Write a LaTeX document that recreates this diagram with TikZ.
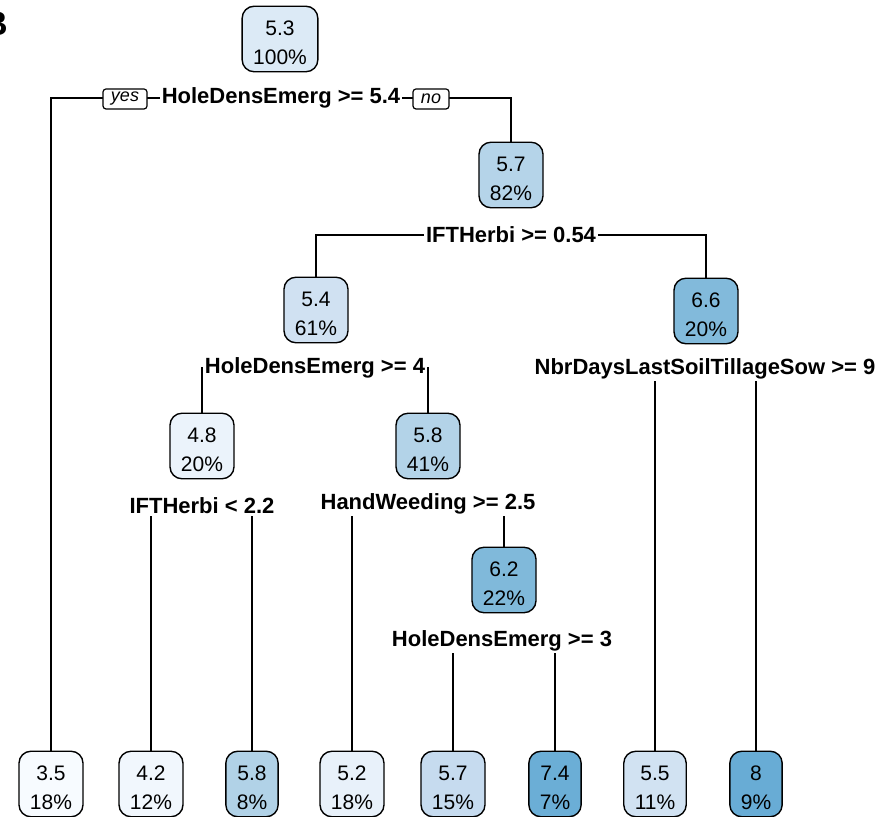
\documentclass[tikz,border=0pt]{standalone}
\usepackage{fontspec}
\setmainfont{Liberation Sans}
\usepackage{xcolor}
\usepackage{tikz}
\usetikzlibrary{backgrounds}

\definecolor{c53}{HTML}{DCEAF6}
\definecolor{c57}{HTML}{B5D4E9}
\definecolor{c54}{HTML}{D0E1F2}
\definecolor{c66}{HTML}{82BADB}
\definecolor{c48}{HTML}{EBF3FB}
\definecolor{c58}{HTML}{B3D3E8}
\definecolor{c62}{HTML}{80B9DA}
\definecolor{l35}{HTML}{F7FBFF}
\definecolor{l42}{HTML}{F1F7FD}
\definecolor{l58}{HTML}{B1D2E7}
\definecolor{l52}{HTML}{E8F1FA}
\definecolor{l57}{HTML}{C6DBEF}
\definecolor{l74}{HTML}{6BAED6}
\definecolor{l55}{HTML}{D1E2F2}
\definecolor{l80}{HTML}{68ACD5}

\newcommand{\nd}[2]{\rule{0pt}{11.5pt}#1\\#2}

\begin{document}
\begin{tikzpicture}[x=0.5pt,y=-0.5pt]
\useasboundingbox (0,0) rectangle (883,817);
\tikzstyle{box}=[draw,line width=0.7pt,rounded corners=6pt,align=center,inner xsep=5.5pt,minimum height=32pt,font=\fontsize{10.5}{14.5}\selectfont];
\tikzstyle{split}=[fill=white,inner sep=1pt,font=\fontsize{11}{13}\selectfont\bfseries];
\tikzstyle{yn}=[draw,fill=white,line width=0.6pt,rounded corners=1.5pt,inner xsep=4pt,inner ysep=1pt,minimum height=10pt,font=\fontsize{9}{10}\selectfont\itshape];
\tikzstyle{edge}=[line width=0.6pt];

\node[font=\fontsize{17}{20}\selectfont\bfseries,inner sep=0pt,anchor=base east] (panel) at (8,36) {B};

% inner nodes
\node[box,fill=c53] (n1) at (280,39) {\nd{5.3}{100\%}};
\node[box,fill=c57] (n3) at (511,175) {\nd{5.7}{82\%}};
\node[box,fill=c54] (n6) at (316,310) {\nd{5.4}{61\%}};
\node[box,fill=c66] (n7) at (706,311) {\nd{6.6}{20\%}};
\node[box,fill=c48] (n12) at (202,446) {\nd{4.8}{20\%}};
\node[box,fill=c58] (n13) at (428,446) {\nd{5.8}{41\%}};
\node[box,fill=c62] (n27) at (504,580) {\nd{6.2}{22\%}};

% leaves
\node[box,fill=l35] (n2) at (51,784) {\nd{3.5}{18\%}};
\node[box,fill=l42] (n24) at (151,784) {\nd{4.2}{12\%}};
\node[box,fill=l58] (n25) at (252,784) {\nd{5.8}{8\%}};
\node[box,fill=l52] (n26) at (352,784) {\nd{5.2}{18\%}};
\node[box,fill=l57] (n54) at (453,784) {\nd{5.7}{15\%}};
\node[box,fill=l74] (n55) at (555,784) {\nd{7.4}{7\%}};
\node[box,fill=l55] (n14) at (655,784) {\nd{5.5}{11\%}};
\node[box,fill=l80] (n15) at (756,784) {\nd{8}{9\%}};

% split labels
\node[split] (s1) at (281,98) {HoleDensEmerg >= 5.4};
\node[yn] (yes) at (125,99) {yes};
\node[yn] (no) at (431,99) {no};
\node[split] (s3) at (511,235) {IFTHerbi >= 0.54};
\node[split] (s6) at (315,368) {HoleDensEmerg >= 4};
\node[split] (s7) at (705,369) {NbrDaysLastSoilTillageSow >= 9};
\node[split] (s12) at (202,506) {IFTHerbi < 2.2};
\node[split] (s13) at (428,504) {HandWeeding >= 2.5};
\node[split] (s27) at (502,641) {HoleDensEmerg >= 3};

\begin{pgfonlayer}{background}
\draw[edge] (s1.center) -| (n2.north);
\draw[edge] (s1.center) -| (n3.north);
\draw[edge] (s3.center) -| (n6.north);
\draw[edge] (s3.center) -| (n7.north);
\draw[edge] (s6.center) -| (n12.north);
\draw[edge] (s6.center) -| (n13.north);
\draw[edge] (s7.center) -| (n14.north);
\draw[edge] (s7.center) -| (n15.north);
\draw[edge] (s12.center) -| (n24.north);
\draw[edge] (s12.center) -| (n25.north);
\draw[edge] (s13.center) -| (n26.north);
\draw[edge] (s13.center) -| (n27.north);
\draw[edge] (s27.center) -| (n54.north);
\draw[edge] (s27.center) -| (n55.north);
\end{pgfonlayer}
\end{tikzpicture}
\end{document}
